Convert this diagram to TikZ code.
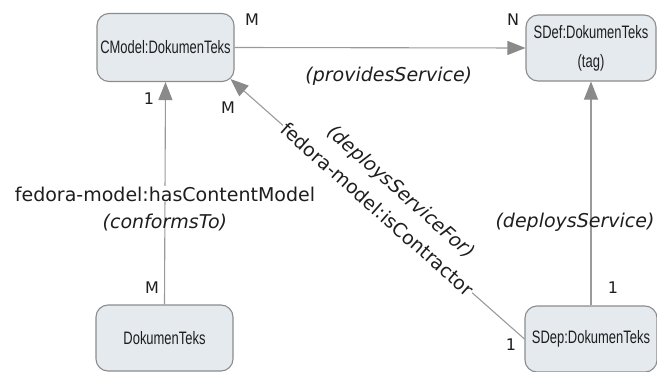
\documentclass[tikz,border=0pt]{standalone}
\usepackage{fontspec}
\setmainfont{DejaVu Sans}
\newfontfamily\boxfont[FakeStretch=0.72]{Liberation Sans}
\usetikzlibrary{arrows.meta,calc}
\definecolor{boxfill}{HTML}{E5EAEF}
\definecolor{boxline}{HTML}{8C8C8C}
\definecolor{conn}{HTML}{9A9A9A}
\definecolor{tipc}{HTML}{8A8A8A}
\definecolor{txt}{HTML}{1E1E1E}
\begin{document}
\begin{tikzpicture}[x=1pt,y=-1pt,
  obj/.style={draw=boxline, line width=1.1pt, fill=boxfill, rounded corners=12pt,
    minimum width=137pt, minimum height=67pt, inner sep=0pt,
    font=\boxfont\fontsize{18}{29}\selectfont, text=txt, align=center},
  rel/.style={draw=conn, line width=1.1pt, -{Triangle[length=18pt,width=14pt,fill=tipc,color=tipc]}},
  lab/.style={font=\fontsize{19}{23}\selectfont, text=txt, inner sep=0pt},
  mult/.style={font=\fontsize{16}{19}\selectfont, text=txt, inner sep=0pt}]
\useasboundingbox (0,0) rectangle (657,372);

\node[obj, minimum height=68pt] (cm) at (165.5,47.5) {CModel:DokumenTeks};
\node[obj, minimum width=130pt, minimum height=66pt] (sd) at (591,48) {SDef:DokumenTeks\\(tag)};
\node[obj, minimum height=66pt] (dk) at (164.5,338) {DokumenTeks};
\node[obj, minimum width=132pt, minimum height=66pt] (sp) at (591,339) {SDep:DokumenTeks};

\draw[rel] (cm.east) -- node[lab, pos=0.53, below=19pt] {\itshape (providesService)} (sd.west);

\draw[rel] (dk.north) -- node[lab, pos=0.367] (conf) {\itshape (conformsTo)}
  node[lab, pos=0.497, fill=white, inner sep=1pt] (hcm) {fedora-model:hasContentModel} (cm.south);

\draw[rel] (sp.north) -- node[lab, pos=0.373, xshift=-16pt] (dps) {\itshape (deploysService)} (sd.south);

\draw[rel] (sp.west) -- node[lab, sloped, pos=0.5, fill=white, inner sep=1pt] (isc) {fedora-model:isContractor}
  node[lab, sloped, pos=0.484, above=18pt] (dsf) {\itshape (deploysServiceFor)}
  ($(cm.south east)+(-4,-3)$);

\node[mult] (m1) at (252,20) {M};
\node[mult] (n1) at (513,20) {N};
\node[mult] (o1) at (149,99) {1};
\node[mult] (m2) at (228,108) {M};
\node[mult] (m3) at (152,288) {M};
\node[mult] (o2) at (613,288) {1};
\node[mult] (o3) at (511,345) {1};
\end{tikzpicture}
\end{document}
